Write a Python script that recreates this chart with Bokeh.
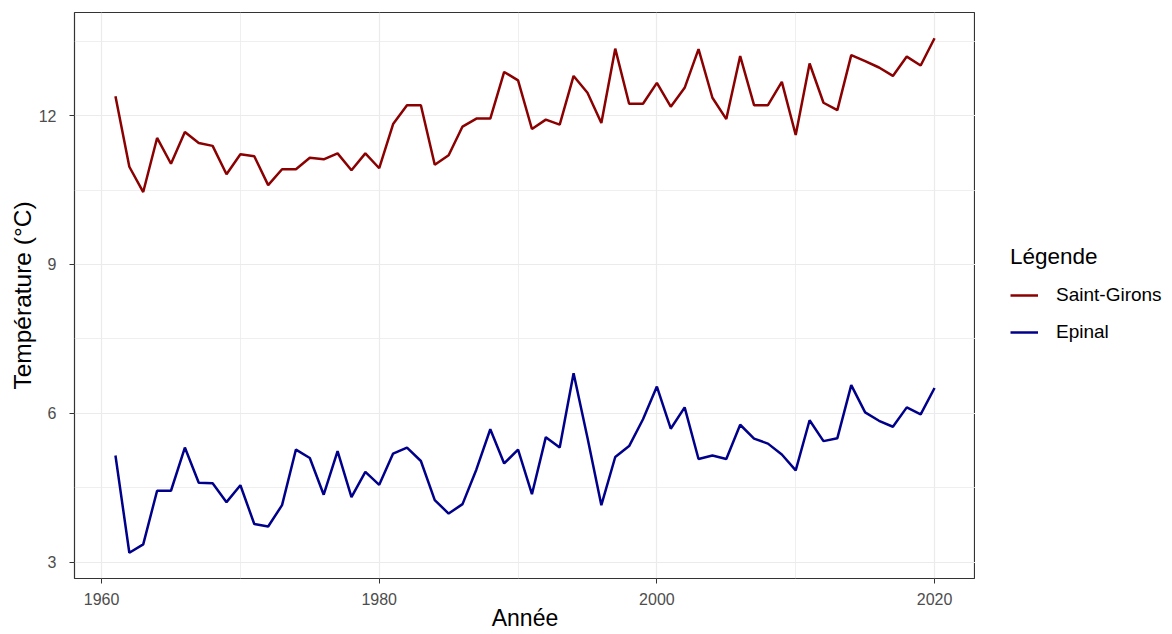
from bokeh.plotting import figure
from bokeh.layouts import row
from bokeh.models import Range1d, FixedTicker, Legend, LegendItem
from bokeh.embed import file_html
from bokeh.resources import INLINE

# Annual mean temperature (°C), 1961-2020
years = list(range(1961, 2021))
saint_girons = [
    12.39, 10.97, 10.46, 11.55, 11.03, 11.67, 11.45, 11.39, 10.82, 11.22,
    11.18, 10.60, 10.92, 10.92, 11.15, 11.12, 11.24, 10.90, 11.24, 10.94,
    11.83, 12.21, 12.21, 11.01, 11.20, 11.78, 11.94, 11.94, 12.88, 12.71,
    11.73, 11.92, 11.82, 12.80, 12.46, 11.85, 13.35, 12.24, 12.24, 12.66,
    12.18, 12.56, 13.34, 12.36, 11.93, 13.20, 12.21, 12.21, 12.68, 11.61,
    13.05, 12.26, 12.11, 13.22, 13.10, 12.97, 12.80, 13.19, 13.01, 13.56,
]
epinal = [
    5.15, 3.19, 3.36, 4.44, 4.44, 5.31, 4.60, 4.59, 4.21, 4.55,
    3.77, 3.72, 4.15, 5.27, 5.10, 4.36, 5.24, 4.31, 4.82, 4.56,
    5.19, 5.31, 5.04, 4.25, 3.98, 4.17, 4.87, 5.68, 4.99, 5.27,
    4.37, 5.52, 5.31, 6.81, 5.51, 4.15, 5.12, 5.34, 5.88, 6.54,
    5.69, 6.12, 5.08, 5.15, 5.08, 5.77, 5.49, 5.39, 5.17, 4.85,
    5.86, 5.44, 5.50, 6.57, 6.02, 5.85, 5.73, 6.12, 5.98, 6.51,
]
series = [saint_girons, epinal]
series_names = ["Saint-Girons", "Epinal"]
series_colors = ["#8B0000", "#00008B"]

x_major = [1960, 1980, 2000, 2020]
x_minor = [1970, 1990, 2010]
y_major = [3, 6, 9, 12]
y_minor = [4.5, 7.5, 10.5, 13.5]

FONT = "Liberation Sans"

# axis limits padded by 5% of the data span on each side
all_vals = saint_girons + epinal
xpad = (max(years) - min(years)) * 0.05
ypad = (max(all_vals) - min(all_vals)) * 0.05

p = figure(
    frame_width=901, frame_height=566,
    output_backend="svg", toolbar_location=None,
    x_range=Range1d(min(years) - xpad, max(years) + xpad),
    y_range=Range1d(min(all_vals) - ypad, max(all_vals) + ypad),
    min_border_left=74, min_border_right=0,
    min_border_top=12, min_border_bottom=56,
)
p.background_fill_color = "white"
p.border_fill_color = "white"
p.outline_line_color = "#333333"
p.outline_line_width = 1.2

p.xaxis.ticker = FixedTicker(ticks=x_major, minor_ticks=x_minor)
p.yaxis.ticker = FixedTicker(ticks=y_major, minor_ticks=y_minor)

for grid in (p.xgrid[0], p.ygrid[0]):
    grid.grid_line_color = "#ebebeb"
    grid.grid_line_width = 1.2
    grid.minor_grid_line_color = "#ebebeb"
    grid.minor_grid_line_width = 0.8

for ax in (p.xaxis[0], p.yaxis[0]):
    ax.axis_line_color = None
    ax.major_tick_line_color = "#333333"
    ax.major_tick_in = 0
    ax.major_tick_out = 5
    ax.minor_tick_line_color = None
    ax.major_label_text_font = FONT
    ax.major_label_text_font_size = "16px"
    ax.major_label_text_color = "#4d4d4d"
    ax.axis_label_text_font = FONT
    ax.axis_label_text_font_style = "normal"
    ax.axis_label_text_color = "black"

p.xaxis.axis_label = "Année"
p.yaxis.axis_label = "Température (°C)"
p.xaxis.axis_label_text_font_size = "23px"
p.yaxis.axis_label_text_font_size = "24.5px"
p.xaxis.major_label_standoff = 9
p.xaxis.axis_label_standoff = -3
p.yaxis.major_label_standoff = 13
p.yaxis.axis_label_standoff = 0

for name, vals, col in zip(series_names, series, series_colors):
    p.line(years, vals, line_color=col, line_width=2.5)

# side panel holding the legend; its frame lines up with the main frame
side = figure(
    width=197, height=634, output_backend="svg", toolbar_location=None,
    x_range=Range1d(0, 1), y_range=Range1d(0, 1),
    min_border=0,
)
side.axis.visible = False
side.grid.visible = False
side.outline_line_color = None
side.background_fill_color = "white"
side.border_fill_color = "white"

items = []
for name, vals, col in zip(series_names, series, series_colors):
    # same series, drawn outside this panel's view; only the legend key shows
    key = side.line(years, vals, line_color=col, line_width=2.5)
    items.append(LegendItem(label=name, renderers=[key]))

legend = Legend(items=items, location=(35, 235))
legend.title = "Légende"
legend.title_text_font = FONT
legend.title_text_font_size = "22.5px"
legend.title_text_font_style = "normal"
legend.title_text_color = "black"
legend.title_standoff = 14
legend.label_text_font = FONT
legend.label_text_font_size = "19px"
legend.label_text_color = "black"
legend.label_standoff = 18
legend.glyph_width = 28
legend.glyph_height = 22
legend.spacing = 15
legend.padding = 0
legend.margin = 0
legend.border_line_color = None
legend.background_fill_alpha = 0
side.add_layout(legend, "center")

layout = row(p, side, spacing=0)
open("out.html", "w").write(file_html(layout, INLINE))
